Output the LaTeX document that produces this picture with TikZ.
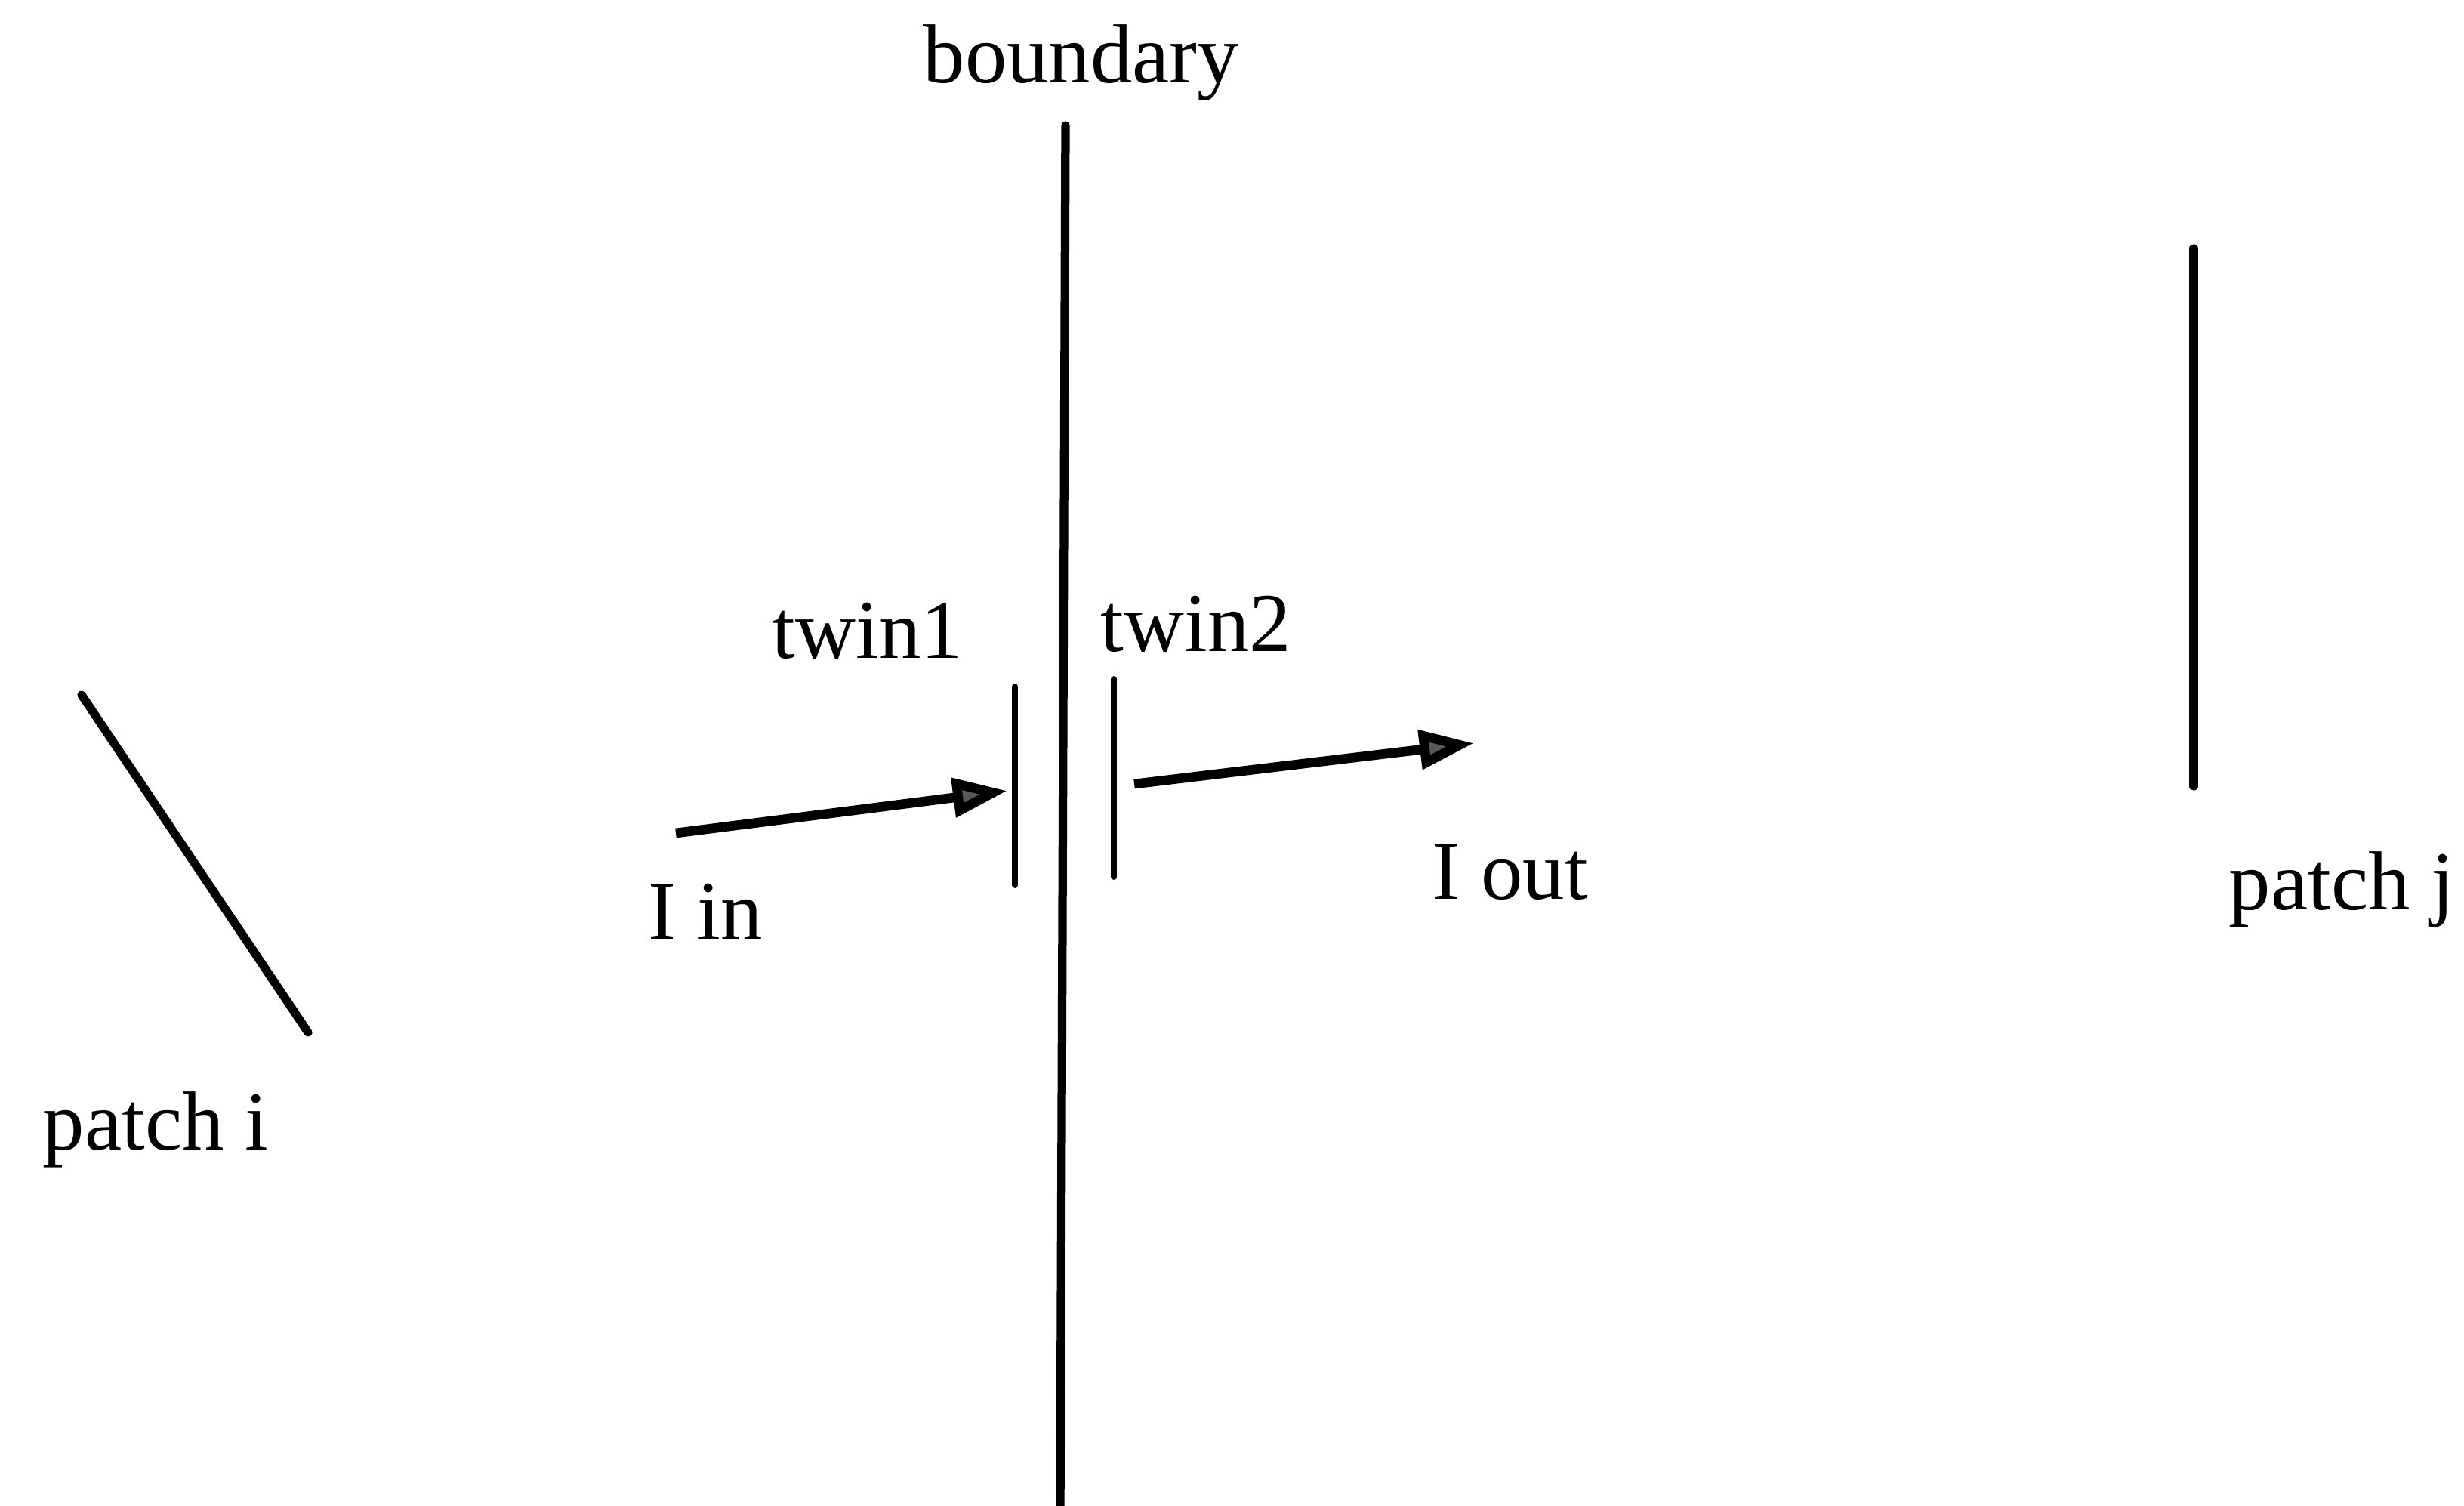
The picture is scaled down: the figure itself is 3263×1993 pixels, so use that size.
\documentclass[tikz,border=0pt]{standalone}
\usepackage{fontspec}
\setmainfont{Liberation Serif}
\usetikzlibrary{arrows.meta}
\begin{document}
\begin{tikzpicture}[x=0.01cm,y=-0.01cm,
  lbl/.style={inner sep=0pt,font=\fontsize{31.5}{37}\selectfont},
  bline/.style={line width=3.2pt,line cap=round},
  tline/.style={line width=2.2pt,line cap=round},
  flow/.style={line width=3.6pt,-{Triangle[length=0.72cm,width=0.5cm,fill=black!65]}}]
\useasboundingbox (0,0) rectangle (3263,1993);
% labels
\node[lbl] (lboundary) at (1432,83) {boundary};
\node[lbl] (ltwin1) at (1149,835) {twin1};
\node[lbl] (ltwin2) at (1584,826) {twin2};
\node[lbl] (lin) at (934,1207) {I in};
\node[lbl] (lout) at (2000,1155) {I out};
\node[lbl] (lpi) at (206,1496) {patch i};
\node[lbl] (lpj) at (3101,1178) {patch j};
% boundary
\coordinate (b1) at (1411,166);
\coordinate (b2) at (1404,2000);
\draw[bline] (b1) -- (b2);
% twins
\coordinate (t1a) at (1344,909);
\coordinate (t1b) at (1344,1172);
\coordinate (t2a) at (1475,899);
\coordinate (t2b) at (1475,1161);
\draw[tline] (t1a) -- (t1b);
\draw[tline] (t2a) -- (t2b);
% patches
\coordinate (pia) at (108,920);
\coordinate (pib) at (408,1367);
\draw[bline] (pia) -- (pib);
\coordinate (pja) at (2905,329);
\coordinate (pjb) at (2905,1041);
\draw[bline] (pja) -- (pjb);
% arrows
\coordinate (ina) at (895,1103);
\coordinate (inb) at (1334,1047);
\draw[flow] (ina) -- (inb);
\coordinate (outa) at (1502,1038);
\coordinate (outb) at (1952,984);
\draw[flow] (outa) -- (outb);
\end{tikzpicture}
\end{document}
